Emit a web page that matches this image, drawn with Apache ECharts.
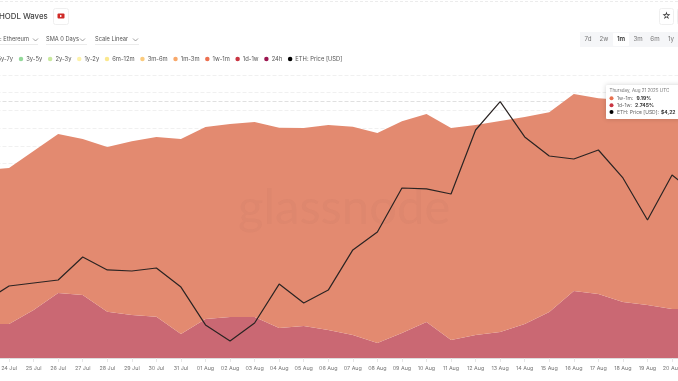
<!DOCTYPE html>
<html>
<head>
<meta charset="utf-8">
<title>HODL Waves</title>
<style>
	html, body { margin: 0; padding: 0; background: #fff; }
	#main { width: 678px; height: 381px; overflow: hidden; }
</style>
<script src="https://cdn.jsdelivr.net/npm/echarts@6/dist/echarts.min.js"></script>
</head>
<body>
<div id="main"></div>
<script>
var dates = ['23 Jul', '24 Jul', '25 Jul', '26 Jul', '27 Jul', '28 Jul', '29 Jul', '30 Jul', '31 Jul',
	'01 Aug', '02 Aug', '03 Aug', '04 Aug', '05 Aug', '06 Aug', '07 Aug', '08 Aug', '09 Aug', '10 Aug',
	'11 Aug', '12 Aug', '13 Aug', '14 Aug', '15 Aug', '16 Aug', '17 Aug', '18 Aug', '19 Aug', '20 Aug', '21 Aug'];
var band1d1w = [1.92, 1.92, 2.71, 3.67, 3.56, 2.62, 2.43, 2.33, 1.36, 2.20, 2.32, 2.32, 1.70, 1.81, 1.58,
	1.30, 0.85, 1.41, 2.04, 1.02, 1.30, 1.47, 1.92, 2.60, 3.79, 3.62, 3.17, 3.00, 2.77, 2.745];
var band1w1m = [8.71, 8.82, 8.99, 8.99, 8.82, 9.31, 9.83, 10.16, 11.02, 10.86, 10.91, 11.02, 11.32, 11.19, 11.59,
	11.78, 11.87, 11.98, 11.76, 11.98, 11.87, 11.93, 11.70, 11.30, 11.13, 11.07, 11.42, 11.64, 11.76, 11.84];
var ethPrice = [3619, 3707, 3724, 3741, 3871, 3798, 3792, 3809, 3701, 3487, 3396, 3498, 3718, 3611, 3684,
	3911, 4012, 4261, 4256, 4227, 4589, 4749, 4550, 4442, 4425, 4476, 4318, 4080, 4335, 4225];
var legendNames = ['5y-7y', '3y-5y', '2y-3y', '1y-2y', '6m-12m', '3m-6m', '1m-3m', '1w-1m', '1d-1w', '24h', 'ETH: Price [USD]'];
var legendColors = ['#7fd0a0', '#93d99a', '#c9e99f', '#fdf2ab', '#fbe88e', '#fbcb7e', '#f8a86a', '#ec7050', '#c93542', '#9c1650', '#000000'];
var rangeButtons = ['7d', '2w', '1m', '3m', '6m', '1y'];
var rangeButtonX = [588, 604, 621, 638, 655, 671];

var font = 'Inter';

function label(text, x, y, size, color, weight, align) {
	return {
		type: 'text',
		x: x,
		y: y,
		silent: true,
		z: 100,
		style: {
			text: text,
			fontFamily: font,
			fontSize: size,
			fontWeight: weight || 400,
			fill: color,
			align: align || 'left',
			verticalAlign: 'middle'
		}
	};
}

function box(x, y, w, h, fill, stroke, r, shadow) {
	return {
		type: 'rect',
		silent: true,
		z: 99,
		shape: { x: x, y: y, width: w, height: h, r: r || 0 },
		style: {
			fill: fill,
			stroke: stroke || null,
			lineWidth: 1,
			shadowBlur: shadow || 0,
			shadowColor: 'rgba(0,0,0,0.18)'
		}
	};
}

function dot(x, y, r, color) {
	return {
		type: 'circle',
		silent: true,
		z: 101,
		shape: { cx: x, cy: y, r: r },
		style: { fill: color }
	};
}

function chevron(x, y) {
	return {
		type: 'polyline',
		silent: true,
		z: 100,
		shape: { points: [[x, y], [x + 2.5, y + 2.5], [x + 5, y]] },
		style: { stroke: '#777', lineWidth: 0.7, fill: null }
	};
}

function rule(x1, x2, y, dash) {
	return {
		type: 'line',
		silent: true,
		z: 1,
		shape: { x1: x1, y1: y, x2: x2, y2: y },
		style: { stroke: '#ececec', lineWidth: 1, lineDash: dash || null }
	};
}

var graphics = [
	rule(0, 678, 1.5, [3, 2]),
	// youtube button
	box(53.5, 8.5, 15, 16, '#fff', '#efefef', 2),
	box(57.5, 13.5, 7, 5, '#cf2a27', null, 1),
	{
		type: 'polygon',
		silent: true,
		z: 101,
		shape: { points: [[60, 14.7], [60, 17.3], [62.2, 16]] },
		style: { fill: '#fff' }
	},
	// star button
	box(659.5, 8.5, 14, 16, '#fff', '#efefef', 2),
	label('☆', 666.5, 16.5, 9, '#333', 400, 'center'),
	box(677.5, 8.5, 6, 16, '#fff', '#efefef', 2),
	// dropdowns
	label(': Ethereum', 0, 39.5, 5.7, '#555'),
	chevron(33, 38.5),
	rule(0, 38, 44.5),
	label('SMA 0 Days', 46, 39.5, 5.7, '#555'),
	chevron(80, 38.5),
	rule(46, 87, 44.5),
	label('Scale Linear', 95, 39.5, 5.7, '#555'),
	chevron(133, 38.5),
	rule(95, 139, 44.5),
	// range buttons
	box(580, 32, 98, 15, '#f5f6f8'),
	box(613, 33, 16, 13, '#fff', null, 1)
];

for (var i = 0; i < rangeButtons.length; i++) {
	graphics.push(label(rangeButtons[i], rangeButtonX[i], 39.5, 6.2, i === 2 ? '#333' : '#777', i === 2 ? 600 : 400, 'center'));
}

graphics = graphics.concat([
	// watermark
	{
		type: 'text',
		x: 238,
		y: 208,
		silent: true,
		z: 4,
		style: {
			text: 'glassnode',
			fontFamily: 'Lato',
			fontSize: 49,
			fontWeight: 400,
			fill: 'rgba(120,70,70,0.045)',
			verticalAlign: 'middle'
		}
	},
	// hover box
	box(606, 85, 80, 34, '#fff', null, 1, 5),
	label('Thursday, Aug 21 2025 UTC', 609.5, 91, 4.5, '#777'),
	dot(611.5, 98.2, 2, '#e8714f'),
	label('1w-1m: ', 617, 98.2, 5, '#666'),
	label('9.19%', 636.5, 98.2, 5, '#333', 700),
	dot(611.5, 105.2, 2, '#c93542'),
	label('1d-1w: ', 617, 105.2, 5, '#666'),
	label('2.745%', 635, 105.2, 5, '#333', 700),
	dot(611.5, 112, 2, '#000'),
	label('ETH: Price [USD]: ', 617, 112, 5, '#666'),
	label('$4,22', 661, 112, 5, '#333', 700)
]);

var series = [{
	name: 'ref',
	type: 'line',
	yAxisIndex: 1,
	z: 1,
	data: [],
	markLine: {
		z: 1,
		silent: true,
		symbol: 'none',
		label: { show: false },
		lineStyle: { color: '#e0e0e0', type: 'dashed', width: 1 },
		data: [{ yAxis: 4749 }]
	}
}];

for (var n = 0; n < legendNames.length - 1; n++) {
	var name = legendNames[n];
	var values = [];
	var fill = legendColors[n];
	if (name === '1d-1w') {
		values = band1d1w;
		fill = '#ca6873';
	}
	if (name === '1w-1m') {
		values = band1w1m;
		fill = '#e38a70';
	}
	series.push({
		name: name,
		type: 'line',
		stack: 'hodl',
		z: 2,
		symbol: 'none',
		itemStyle: { color: legendColors[n] },
		lineStyle: { width: 0 },
		areaStyle: { color: fill, opacity: 1 },
		data: values
	});
}

// stacking follows series order, so the lower band has to go first
series.sort(function(a, b) {
	if (a.name === '1d-1w') return -1;
	if (b.name === '1d-1w') return 1;
	return 0;
});

series.push({
	name: 'ETH: Price [USD]',
	type: 'line',
	yAxisIndex: 1,
	z: 5,
	symbol: 'none',
	itemStyle: { color: '#000' },
	lineStyle: { color: '#2b2423', width: 1.2 },
	data: ethPrice
});

var myChart = echarts.init(document.getElementById('main'));
var option = {
	animation: false,
	backgroundColor: '#fff',
	textStyle: { fontFamily: font },
	title: {
		text: 'HODL Waves',
		left: -1,
		top: 13,
		padding: 0,
		textStyle: { fontFamily: font, fontSize: 7.8, fontWeight: 500, color: '#444' }
	},
	legend: {
		data: legendNames,
		left: -10,
		top: 56,
		padding: 0,
		icon: 'circle',
		itemWidth: 4.5,
		itemHeight: 4.5,
		itemGap: 5.6,
		selectedMode: false,
		textStyle: { fontFamily: font, fontSize: 5.8, color: '#555', padding: [0, 0, 0, -2] }
	},
	grid: {
		left: -15.5,
		right: -18.6,
		top: 75,
		bottom: 23,
		outerBoundsMode: 'none'
	},
	xAxis: {
		type: 'category',
		boundaryGap: false,
		data: dates,
		axisLine: { lineStyle: { color: '#dedede' } },
		axisTick: { show: true, length: 4, alignWithLabel: true, lineStyle: { color: '#e6e6e6' } },
		axisLabel: { interval: 0, fontFamily: font, fontSize: 5.4, color: '#777', margin: 8, hideOverlap: false }
	},
	yAxis: [{
		type: 'value',
		min: 0,
		max: 16,
		interval: 1,
		axisLine: { show: false },
		axisTick: { show: false },
		axisLabel: { show: false },
		splitLine: { lineStyle: { color: '#f0f0f0', type: 'dashed' } }
	}, {
		type: 'value',
		min: 3300,
		max: 4900,
		axisLine: { show: false },
		axisTick: { show: false },
		axisLabel: { show: false },
		splitLine: { show: false }
	}],
	series: series,
	graphic: { elements: graphics }
};
myChart.setOption(option);
</script>
</body>
</html>
